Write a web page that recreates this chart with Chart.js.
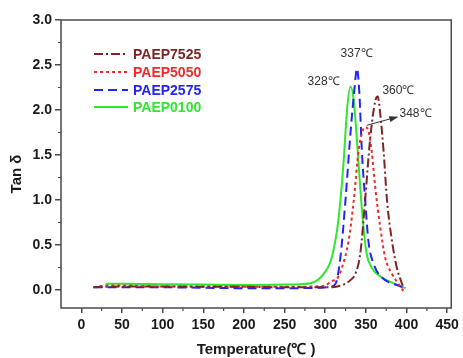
<!DOCTYPE html>
<html><head><meta charset="utf-8">
<script src="https://cdn.jsdelivr.net/npm/chart.js@4/dist/chart.umd.min.js"></script>
<style>html,body{margin:0;padding:0;background:#fff;}</style>
</head><body>
<canvas id="c" width="463" height="358" style="width:463px;height:358px;display:block"></canvas>
<script>
// ---- data ----
const seriesNames = ['PAEP7525', 'PAEP5050', 'PAEP2575', 'PAEP0100'];

const temp7525 = [15, 50, 100, 150, 200, 250, 300, 315, 325, 331, 337, 343, 349, 355, 361.5, 364.5, 367.6, 371.7, 376, 382, 388, 396];
const tan7525  = [0.03, 0.04, 0.04, 0.035, 0.035, 0.03, 0.03, 0.04, 0.07, 0.11, 0.18, 0.40, 0.99, 1.66, 2.10, 2.15, 1.96, 1.55, 0.99, 0.55, 0.25, 0.03];

const temp5050 = [15, 30, 50, 100, 150, 200, 250, 290, 300, 308, 314, 320.6, 328.8, 335, 341, 345, 349, 353, 357, 361.5, 367.6, 373.7, 382, 390, 396];
const tan5050  = [0.03, 0.05, 0.05, 0.04, 0.04, 0.035, 0.035, 0.04, 0.05, 0.10, 0.12, 0.25, 0.55, 0.99, 1.55, 1.74, 1.81, 1.77, 1.55, 1.14, 0.70, 0.36, 0.18, 0.07, -0.01];

const temp2575 = [15, 50, 100, 150, 200, 250, 290, 305, 312.5, 318.6, 324.8, 331, 336.2, 339, 342, 345, 349.2, 353, 359.5, 369.5, 380, 390, 398];
const tan2575  = [0.03, 0.03, 0.03, 0.025, 0.02, 0.02, 0.025, 0.035, 0.067, 0.36, 0.99, 1.74, 2.26, 2.46, 2.18, 1.55, 0.99, 0.55, 0.29, 0.14, 0.08, 0.05, 0.02];

const temp0100 = [30, 50, 100, 150, 200, 250, 270, 284, 298, 308, 316.6, 322.7, 326.8, 331, 335, 339, 343, 347, 351, 357, 369.5, 380, 390, 399];
const tan0100  = [0.07, 0.07, 0.065, 0.06, 0.055, 0.06, 0.065, 0.08, 0.18, 0.36, 0.81, 1.44, 2.00, 2.26, 2.11, 1.66, 1.14, 0.70, 0.40, 0.25, 0.14, 0.09, 0.05, 0.02];

const xTickValues = [0, 50, 100, 150, 200, 250, 300, 350, 400, 450];
const yTickValues = [0.0, 0.5, 1.0, 1.5, 2.0, 2.5, 3.0];

const peakLabels = ['337\u2103', '328\u2103', '360\u2103', '348\u2103'];
const peakLabelX = [338.6, 298, 390, 411];
const peakLabelY = [2.63, 2.32, 2.21, 1.96];
const arrowFrom = [351, 1.83];
const arrowTo   = [387.5, 1.92];

const xTitle = 'Temperature(\u2103 )';
const yTitle = 'Tan \u03b4';

// ---- styles ----
const FONT = '"Liberation Sans", Arial, sans-serif';
const colors = ['#7d2424', '#f02a2a', '#2323f5', '#2ee82e'];
const dashes = [[9, 3, 2, 3], [3, 3], [9, 5], []];
const AXIS = '#4a4a4a';

function pts(xs, ys) { return xs.map((x, i) => ({x: x, y: ys[i]})); }
const seriesData = [pts(temp7525, tan7525), pts(temp5050, tan5050), pts(temp2575, tan2575), pts(temp0100, tan0100)];

const datasets = seriesNames.map((n, i) => ({
  label: n,
  data: seriesData[i],
  borderColor: colors[i],
  backgroundColor: colors[i],
  borderDash: dashes[i],
  borderWidth: 2,
  pointRadius: 0,
  fill: false,
  cubicInterpolationMode: 'monotone'
}));

const decor = {
  id: 'decor',
  afterDraw(chart) {
    const ctx = chart.ctx, a = chart.chartArea;
    const xs = chart.scales.x, ys = chart.scales.y;
    ctx.save();
    // frame
    ctx.strokeStyle = AXIS; ctx.lineWidth = 1.5;
    ctx.strokeRect(a.left, a.top, a.right - a.left, a.bottom - a.top);
    // minor ticks
    ctx.lineWidth = 1.2;
    ctx.beginPath();
    for (let i = 0; i < xTickValues.length - 1; i++) {
      const v = (xTickValues[i] + xTickValues[i + 1]) / 2;
      const px = xs.getPixelForValue(v);
      ctx.moveTo(px, a.bottom); ctx.lineTo(px, a.bottom + 3);
    }
    for (let i = 0; i < yTickValues.length - 1; i++) {
      const v = (yTickValues[i] + yTickValues[i + 1]) / 2;
      const py = ys.getPixelForValue(v);
      ctx.moveTo(a.left, py); ctx.lineTo(a.left - 3, py);
    }
    ctx.stroke();
    // legend
    ctx.font = 'bold 14px ' + FONT;
    ctx.textBaseline = 'middle'; ctx.textAlign = 'left';
    const legY = [54, 72, 90, 107];
    chart.data.datasets.forEach((d, i) => {
      ctx.strokeStyle = d.borderColor; ctx.lineWidth = 2;
      ctx.setLineDash(d.borderDash);
      ctx.beginPath(); ctx.moveTo(94, legY[i]); ctx.lineTo(128, legY[i]); ctx.stroke();
      ctx.setLineDash([]);
      ctx.fillStyle = d.borderColor;
      ctx.fillText(d.label, 133, legY[i] + 1);
    });
    // peak labels
    ctx.font = '12px ' + FONT;
    ctx.fillStyle = '#333'; ctx.textAlign = 'center';
    peakLabels.forEach((t, i) => {
      ctx.fillText(t, xs.getPixelForValue(peakLabelX[i]), ys.getPixelForValue(peakLabelY[i]));
    });
    // arrow
    const x1 = xs.getPixelForValue(arrowFrom[0]), y1 = ys.getPixelForValue(arrowFrom[1]);
    const x2 = xs.getPixelForValue(arrowTo[0]), y2 = ys.getPixelForValue(arrowTo[1]);
    ctx.strokeStyle = '#333'; ctx.fillStyle = '#333'; ctx.lineWidth = 1;
    ctx.beginPath(); ctx.moveTo(x1, y1); ctx.lineTo(x2, y2); ctx.stroke();
    const ang = Math.atan2(y2 - y1, x2 - x1);
    ctx.beginPath();
    ctx.moveTo(x2 + 2, y2 + 2 * Math.tan(ang));
    ctx.lineTo(x2 - 7 * Math.cos(ang) + 3 * Math.sin(ang), y2 - 7 * Math.sin(ang) - 3 * Math.cos(ang));
    ctx.lineTo(x2 - 7 * Math.cos(ang) - 3 * Math.sin(ang), y2 - 7 * Math.sin(ang) + 3 * Math.cos(ang));
    ctx.closePath(); ctx.fill();
    // axis titles
    ctx.fillStyle = '#1a1a1a';
    ctx.font = 'bold 15px ' + FONT;
    ctx.textAlign = 'center'; ctx.textBaseline = 'middle';
    ctx.fillText(xTitle, (a.left + a.right) / 2, 350);
    ctx.translate(17, 174); ctx.rotate(-Math.PI / 2);
    ctx.fillText(yTitle, 0, 0);
    ctx.restore();
  }
};

new Chart(document.getElementById('c'), {
  type: 'line',
  data: { datasets: datasets },
  plugins: [decor],
  options: {
    responsive: false,
    devicePixelRatio: 1,
    animation: false,
    layout: { padding: { top: 20, right: 11, left: 0, bottom: 0 } },
    plugins: { legend: { display: false }, tooltip: { enabled: false } },
    scales: {
      x: {
        type: 'linear', min: -25, max: 455,
        afterBuildTicks: s => { s.ticks = xTickValues.map(v => ({value: v})); },
        afterFit: s => { s.height = 50; },
        grid: { drawOnChartArea: false, drawTicks: true, tickLength: 5, color: AXIS, lineWidth: 1.5 },
        border: { display: false },
        ticks: { color: '#1a1a1a', font: { family: FONT, size: 14, weight: 'bold' }, padding: 4, maxRotation: 0,
                 callback: v => String(v) }
      },
      y: {
        type: 'linear', min: -0.2, max: 3.0,
        afterBuildTicks: s => { s.ticks = yTickValues.map(v => ({value: v})); },
        afterFit: s => { s.width = 61; },
        grid: { drawOnChartArea: false, drawTicks: true, tickLength: 6, color: AXIS, lineWidth: 1.5 },
        border: { display: false },
        ticks: { color: '#1a1a1a', font: { family: FONT, size: 14, weight: 'bold' }, padding: 3,
                 callback: v => Number(v).toFixed(1) }
      }
    }
  }
});
</script>
</body></html>
